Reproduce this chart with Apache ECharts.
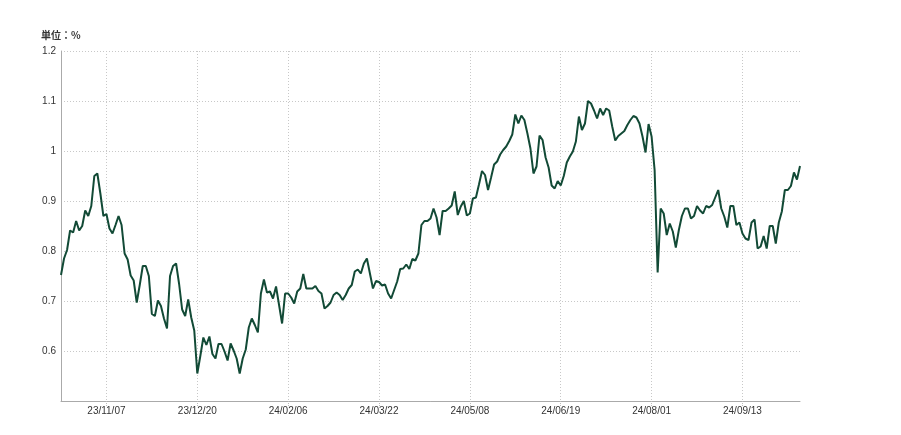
<!DOCTYPE html>
<html><head><meta charset="utf-8">
<script src="https://cdn.jsdelivr.net/npm/echarts@6/dist/echarts.min.js"></script>
<style>html,body{margin:0;padding:0;background:#fff}#c{width:901px;height:435px}</style>
</head><body><div id="c"></div>
<script>
// Trading-day calendar (weekdays minus Japanese market holidays)
const startDate = '2023-10-16';
const pointCount = 245;
const holidays = ['2023-11-03','2023-11-23','2024-01-01','2024-01-02','2024-01-03','2024-01-08','2024-02-12','2024-02-23','2024-03-20','2024-04-29','2024-05-03','2024-05-06','2024-07-15','2024-08-12','2024-09-16','2024-09-23','2024-10-14'];
const tickLabels = ['23/11/07','23/12/20','24/02/06','24/03/22','24/05/08','24/06/19','24/08/01','24/09/13'];
const yTicks = [0.6, 0.7, 0.8, 0.9, 1.0, 1.1, 1.2];
const unitLabel = '単位：%';

const yieldValues = [
0.752,0.785,0.802,0.841,0.837,0.86,0.841,0.85,0.881,0.87,
0.89,0.95,0.955,0.915,0.87,0.874,0.845,0.835,0.852,0.87,
0.852,0.795,0.783,0.751,0.741,0.697,0.732,0.77,0.77,0.75,
0.674,0.67,0.701,0.69,0.665,0.645,0.75,0.77,0.775,0.734,
0.683,0.67,0.703,0.667,0.641,0.555,0.59,0.627,0.612,0.629,
0.594,0.585,0.614,0.614,0.599,0.581,0.615,0.601,0.585,0.555,
0.585,0.603,0.647,0.665,0.652,0.637,0.715,0.743,0.717,0.719,
0.705,0.729,0.692,0.655,0.715,0.715,0.707,0.695,0.719,0.725,
0.754,0.725,0.725,0.725,0.73,0.72,0.715,0.685,0.69,0.697,
0.712,0.717,0.712,0.702,0.712,0.725,0.732,0.759,0.763,0.755,
0.775,0.785,0.755,0.725,0.74,0.738,0.731,0.733,0.715,0.705,
0.722,0.739,0.764,0.765,0.773,0.764,0.784,0.781,0.795,0.852,
0.86,0.86,0.865,0.885,0.867,0.832,0.88,0.88,0.885,0.891,
0.919,0.872,0.889,0.9,0.871,0.875,0.905,0.907,0.933,0.96,
0.952,0.922,0.947,0.973,0.979,0.993,1.002,1.009,1.02,1.033,
1.073,1.055,1.071,1.062,1.035,1.005,0.955,0.969,1.031,1.022,
0.987,0.967,0.931,0.925,0.94,0.931,0.95,0.977,0.989,0.999,
1.019,1.069,1.042,1.055,1.1,1.095,1.081,1.065,1.085,1.072,
1.085,1.081,1.049,1.021,1.03,1.035,1.04,1.052,1.062,1.07,
1.067,1.055,1.029,0.997,1.054,1.029,0.962,0.757,0.885,0.875,
0.832,0.855,0.839,0.807,0.842,0.87,0.885,0.885,0.865,0.87,
0.89,0.881,0.875,0.89,0.887,0.892,0.907,0.922,0.885,0.869,
0.847,0.89,0.89,0.852,0.857,0.835,0.825,0.822,0.857,0.863,
0.805,0.809,0.83,0.805,0.85,0.85,0.815,0.857,0.879,0.922,
0.922,0.93,0.957,0.943,0.97
];

function buildDates(start, n, hol) {
  const out = [];
  const d = new Date(start + 'T00:00:00Z');
  const p = v => String(v).padStart(2, '0');
  while (out.length < n) {
    const wd = d.getUTCDay();
    const iso = d.getUTCFullYear() + '-' + p(d.getUTCMonth() + 1) + '-' + p(d.getUTCDate());
    if (wd !== 0 && wd !== 6 && hol.indexOf(iso) < 0) {
      out.push(String(d.getUTCFullYear()).slice(2) + '/' + p(d.getUTCMonth() + 1) + '/' + p(d.getUTCDate()));
    }
    d.setUTCDate(d.getUTCDate() + 1);
  }
  return out;
}
const categories = buildDates(startDate, pointCount, holidays);
const showTick = (i, v) => tickLabels.indexOf(v) >= 0;

const chart = echarts.init(document.getElementById('c'), null, {renderer: 'canvas'});
chart.setOption({
  animation: false,
  backgroundColor: '#fff',
  title: {
    text: unitLabel, left: 36, top: 25,
    textStyle: {fontSize: 10, fontWeight: 'bold', color: '#333', fontFamily: 'Noto Sans CJK JP'}
  },
  grid: {left: 61, right: 101, top: 51, bottom: 34, containLabel: false},
  xAxis: {
    type: 'category',
    data: categories,
    boundaryGap: false,
    axisLine: {lineStyle: {color: '#aaa', width: 1}},
    axisTick: {show: true, interval: showTick, length: 6, lineStyle: {color: '#bbb', type: 'dotted'}},
    axisLabel: {interval: showTick, margin: 5, color: '#333', fontSize: 10, fontFamily: 'Liberation Sans'},
    splitLine: {show: true, interval: showTick, lineStyle: {color: '#c8c8c8', type: [1, 2], width: 1}}
  },
  yAxis: {
    type: 'value',
    min: 0.5, max: 1.2, interval: 0.1,
    axisLine: {show: true, lineStyle: {color: '#aaa', width: 1}},
    axisTick: {show: false},
    axisLabel: {
      showMinLabel: false, margin: 5, color: '#333', fontSize: 10, fontFamily: 'Liberation Sans',
      formatter: v => (yTicks.some(t => Math.abs(t - v) < 1e-9) ? String(Math.round(v * 10) / 10) : '')
    },
    splitLine: {show: true, lineStyle: {color: '#c8c8c8', type: [1, 2], width: 1}}
  },
  series: [{
    type: 'line',
    data: yieldValues,
    symbol: 'none',
    lineStyle: {color: '#124a36', width: 2},
    itemStyle: {color: '#124a36'}
  }]
});
</script>
</body></html>
